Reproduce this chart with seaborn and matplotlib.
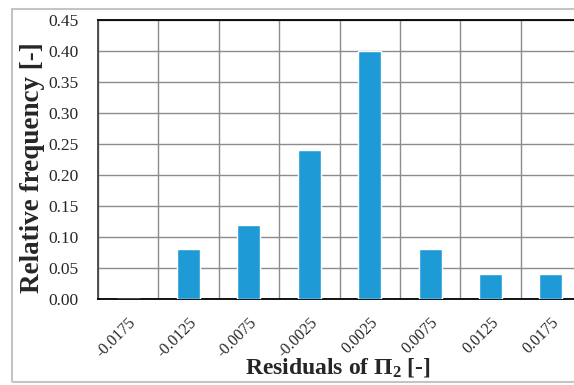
import numpy as np
import pandas as pd
import matplotlib
matplotlib.use("Agg")
import matplotlib.pyplot as plt
from matplotlib.patches import Rectangle
import seaborn as sns

# Data
residual_bins = ["-0.0175", "-0.0125", "-0.0075", "-0.0025",
                 "0.0025", "0.0075", "0.0125", "0.0175"]
rel_freq = [0.00, 0.08, 0.12, 0.24, 0.40, 0.08, 0.04, 0.04]
y_ticks = [0.00, 0.05, 0.10, 0.15, 0.20, 0.25, 0.30, 0.35, 0.40, 0.45]

sns.set_style("white")
plt.rcParams["font.family"] = ["Liberation Serif", "DejaVu Serif"]
plt.rcParams["mathtext.fontset"] = "custom"
plt.rcParams["mathtext.rm"] = "Liberation Serif:bold"
plt.rcParams["mathtext.it"] = "Liberation Serif:italic:bold"
plt.rcParams["mathtext.bf"] = "Liberation Serif:bold"

df = pd.DataFrame({"bin": residual_bins, "freq": rel_freq})

fig = plt.figure(figsize=(5.74, 3.85), dpi=100)
ax = fig.add_axes([98 / 574, 86 / 385, 483 / 574, 279 / 385])

sns.barplot(data=df, x="bin", y="freq", color="#1E9BD7", width=0.38,
            saturation=1, ax=ax, zorder=3)

n = len(residual_bins)
ax.set_xlim(-0.5, n - 0.5)
ax.set_ylim(0, 0.45)
ax.set_yticks(y_ticks)
ax.set_yticklabels([f"{v:.2f}" for v in y_ticks], fontsize=12.5)

# category labels at centres, ticks + grid at boundaries
ax.set_xticks(range(n))
ax.set_xticklabels(residual_bins, rotation=45, ha="right",
                   rotation_mode="anchor", fontsize=11.5)
ax.tick_params(axis="x", which="major", length=0, pad=11)
ax.set_xticks(np.arange(-0.5, n, 1.0), minor=True)
ax.tick_params(axis="x", which="minor", length=5, width=1, color="#444444")
ax.tick_params(axis="y", which="major", length=5, width=1, color="#444444", pad=9)

ax.grid(axis="y", which="major", color="#8c8c8c", lw=1, zorder=0)
ax.grid(axis="x", which="minor", color="#8c8c8c", lw=1, zorder=0)
ax.set_axisbelow(True)

for side in ["left", "bottom", "top"]:
    ax.spines[side].set_visible(True)
    ax.spines[side].set_linewidth(1.3)
ax.spines["left"].set_color("#444444")
ax.spines["bottom"].set_color("black")
ax.spines["top"].set_color("black")
ax.spines["right"].set_visible(False)

ax.set_xlabel(r"Residuals of $\mathit{\Pi}_2$ [-]", fontsize=17, fontweight="bold")
ax.set_ylabel("Relative frequency [-]", fontsize=19.5, fontweight="bold")
ax.xaxis.set_label_coords(0.497, -0.205)
ax.yaxis.set_label_coords(-0.11, 0.47)

# outer chart border
fig.patches.append(Rectangle((12 / 574, 3 / 385), 1.0, 373 / 385,
                             transform=fig.transFigure, fill=False,
                             edgecolor="#c4c4c4", lw=1.5))

fig.savefig("out.png", dpi=100)
